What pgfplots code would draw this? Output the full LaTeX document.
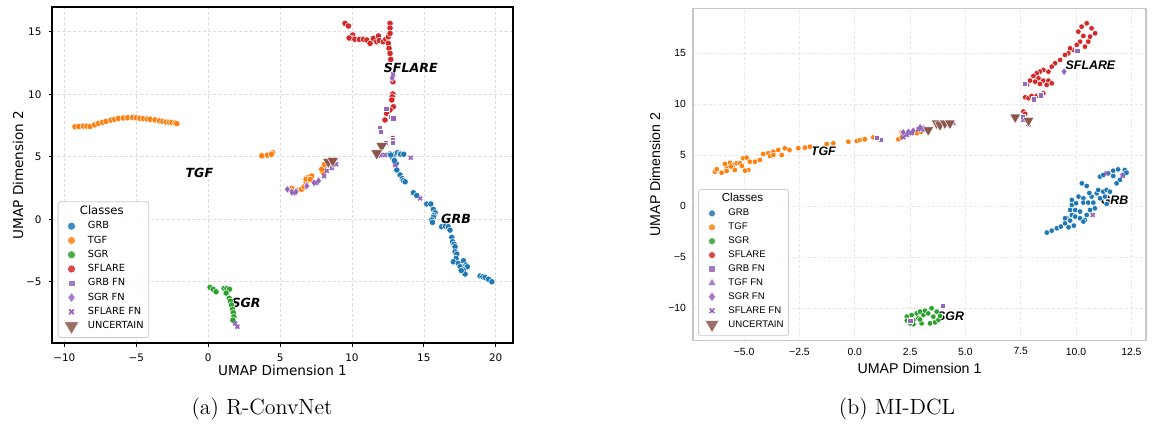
\documentclass[border=0pt]{standalone}
\usepackage{fontspec}
\newfontfamily\dejavu{DejaVu Sans}
\newfontfamily\libsans{Liberation Sans}
\usepackage{pgfplots}
\pgfplotsset{compat=1.18}

\definecolor{cGRB}{HTML}{1F77B4}
\definecolor{cTGF}{HTML}{FF7F0E}
\definecolor{cSGR}{HTML}{2CA02C}
\definecolor{cSFL}{HTML}{D62728}
\definecolor{cFN}{HTML}{9467BD}
\definecolor{cUNC}{HTML}{8C564B}

\pgfplotsset{
  cls/.style={only marks, mark=*, color=#1, mark options={fill=#1, draw=white, line width=0.25pt}},
  sq/.style={only marks, mark=square*, color=cFN, mark size=1.35pt, mark options={fill=cFN, draw=white, line width=0.25pt}},
  tri/.style={only marks, mark=triangle*, color=cFN, mark size=1.9pt, mark options={fill=cFN, draw=white, line width=0.25pt}},
  dia/.style={only marks, mark=diamond*, color=cFN, mark size=2pt, mark options={fill=cFN, draw=white, line width=0.25pt}},
  xx/.style={only marks, mark=x, color=cFN, mark size=1.35pt, mark options={draw=cFN, line width=0.85pt}},
  unc/.style={only marks, mark=triangle*, color=cUNC, mark size=3.4pt, mark options={rotate=180, fill=cUNC, draw=white, line width=0.25pt}},
  mylegend/.style={
    legend cell align=left,
    legend style={draw=black!20, rounded corners=1.2pt, fill=white, fill opacity=0.85, text opacity=1,
      inner xsep=2pt, inner ysep=1.5pt,
      nodes={inner sep=0.5pt, text depth=0.1em}},
    legend image code/.code={\draw[##1, /tikz/every mark/.append style={scale=1.25}] plot coordinates {(4.5pt,0pt)}; \path (0pt,0pt) (12pt,0pt);},
  },
}

\begin{document}
\begin{tikzpicture}
\path[use as bounding box] (0,0) rectangle (577.5pt,-212pt);

% ---------------- (a) R-ConvNet ----------------
\begin{axis}[
  at={(26pt,-171.5pt)}, anchor=south west,
  scale only axis, width=230.5pt, height=168pt,
  xmin=-10.86, xmax=21.2, ymin=-9.9, ymax=16.98,
  xtick={-10,-5,0,5,10,15,20}, xticklabels={−10,−5,0,5,10,15,20},
  ytick={-5,0,5,10,15}, yticklabels={−5,0,5,10,15},
  tick align=outside, major tick length=1.75pt,
  xtick pos=bottom, ytick pos=left,
  tick style={black, line width=0.4pt},
  axis line style={black, line width=0.55pt},
  grid=major, grid style={dash pattern=on 1.6pt off 1pt, black!13, line width=0.3pt},
  ticklabel style={font=\dejavu\fontsize{5.2}{6}\selectfont},
  xlabel={UMAP Dimension 1}, ylabel={UMAP Dimension 2},
  label style={font=\dejavu\fontsize{6.8}{8}\selectfont},
  xlabel style={at={(axis description cs:0.5,-0.0804)}, anchor=center},
  ylabel style={at={(axis description cs:-0.0738,0.5)}, anchor=center},
  mylegend,
  legend style={at={(0.0124,0.0149)}, anchor=south west, font=\dejavu\fontsize{4.9}{5.9}\selectfont, row sep=1.5pt},
  mark size=1.6pt,
]
\addlegendimage{empty legend}
\addlegendentry{\hspace*{-4pt}{\fontsize{5.8}{7}\selectfont Classes}}

\addplot[cls=cGRB] coordinates {
(12.65,5.22)(12.84,4.9)(13.0,5.22)(13.16,5.32)(13.35,5.27)(13.39,5.2)(13.6,5.2)(12.7,5.14)
(13.07,4.47)(12.95,4.7)(13.12,3.94)(13.35,3.54)(13.5,3.25)(13.58,3.09)(13.7,3.0)(14.27,2.12)
(14.5,1.9)(15.2,1.22)(15.48,1.22)(15.66,0.79)(15.78,0.52)(15.7,0.3)(15.66,0.16)(15.55,-0.06)
(15.6,-0.25)(16.24,-0.6)(16.5,-0.55)(16.7,-0.6)(16.82,-0.87)(16.94,-1.45)(17.0,-1.8)(17.1,-2.0)
(17.17,-2.2)(17.17,-2.6)(17.29,-2.79)(17.24,-3.13)(17.05,-3.4)(17.4,-3.53)(17.52,-3.8)(17.75,-3.32)
(17.93,-3.66)(18.02,-3.8)(17.75,-4.06)(17.87,-4.38)(17.6,-4.1)(18.91,-4.54)(19.1,-4.6)(19.26,-4.65)
(19.5,-4.8)(19.73,-5.0)
};
\addlegendentry{GRB}

\addplot[cls=cTGF] coordinates {
(-9.26,7.4)(-9.0,7.42)(-8.68,7.45)(-8.45,7.45)(-8.21,7.42)(-7.9,7.55)(-7.63,7.67)(-7.35,7.75)
(-7.10,7.83)(-6.75,7.93)(-6.5,8.0)(-6.24,8.07)(-5.9,8.1)(-5.6,8.12)(-5.25,8.15)(-5.0,8.12)
(-4.75,8.08)(-4.5,8.05)(-4.25,8.02)(-4.04,8.0)(-3.7,7.95)(-3.39,7.88)(-3.15,7.82)(-2.93,7.77)
(-2.7,7.75)(-2.53,7.75)(-2.3,7.7)(-2.18,7.65)
(3.73,5.08)(4.12,5.13)(4.49,5.32)(4.4,5.2)
(5.81,2.47)(6.2,2.32)(6.5,2.4)(6.67,2.6)(6.81,3.0)(6.97,3.35)(7.2,3.46)(6.81,3.2)(7.1,3.2)
(7.97,3.8)(8.06,4.2)(8.25,4.6)(7.9,4.0)(8.1,4.4)
};
\addlegendentry{TGF}

\addplot[cls=cSGR] coordinates {
(0.13,-5.45)(0.35,-5.6)(0.55,-5.8)(1.11,-5.53)(1.3,-5.55)(1.48,-5.6)(1.25,-5.9)(1.47,-6.33)
(1.55,-6.55)(1.63,-6.86)(1.7,-7.2)(1.75,-7.48)(1.79,-7.8)(1.72,-8.07)
};
\addlegendentry{SGR}

\addplot[cls=cSFL] coordinates {
(9.52,15.67)(9.75,15.46)(10.05,14.74)(9.99,14.47)(9.8,14.5)(10.2,14.4)(10.52,14.39)(10.8,14.4)
(11.03,14.34)(11.26,14.07)(11.49,14.47)(11.72,14.2)(11.84,14.66)(11.9,14.3)(12.18,14.2)(12.35,14.4)
(12.53,14.6)(12.65,15.67)(12.65,15.3)(12.65,14.87)(12.53,14.07)(12.58,13.67)(12.65,13.27)(12.7,12.79)
(12.85,11.0)(12.84,10.02)(12.8,9.8)(12.77,9.54)(12.88,9.0)(12.65,8.74)(12.41,8.47)(12.30,7.94)(12.84,6.46)
};
\addlegendentry{SFLARE}

\addplot[sq] coordinates {
(12.39,8.82)(12.72,8.2)(12.88,8.07)(11.95,7.27)(12.0,7.0)(12.37,6.12)(12.84,6.33)(12.84,6.12)
};
\addlegendentry{GRB FN}

\addplot[dia] coordinates {
(5.51,2.39)(5.81,2.2)(6.11,2.2)(6.86,2.66)(7.36,2.92)(7.68,3.08)(11.9,5.14)(12.8,11.3)
};
\addlegendentry{SGR FN}

\addplot[xx] coordinates {
(5.9,2.1)(7.5,2.9)(8.06,3.46)(8.25,3.88)(8.6,4.1)(8.9,4.4)(12.3,5.14)(13.0,4.34)(14.09,4.92)
(14.74,1.67)(12.86,11.6)(12.0,5.14)(2.03,-8.6)(1.87,-8.33)
};
\addlegendentry{SFLARE FN}

\addplot[unc] coordinates {
(8.36,4.6)(8.66,4.68)(12.07,5.86)(11.72,5.27)
};
\addlegendentry{UNCERTAIN}

\begin{scope}[every node/.style={font=\dejavu\bfseries\itshape\fontsize{6.3}{7.5}\selectfont}]
\node at (axis cs:14.09,12.07) {SFLARE};
\node at (axis cs:-0.61,3.67) {TGF};
\node at (axis cs:17.24,0.0) {GRB};
\node at (axis cs:2.64,-6.68) {SGR};
\end{scope}
\end{axis}

% ---------------- (b) MI-DCL ----------------
\begin{axis}[
  at={(346.5pt,-170.35pt)}, anchor=south west,
  scale only axis, width=226.5pt, height=166.2pt,
  xmin=-7.31, xmax=13.16, ymin=-13.18, ymax=19.41,
  xtick={-5,-2.5,0,2.5,5,7.5,10,12.5}, xticklabels={−5.0,−2.5,0.0,2.5,5.0,7.5,10.0,12.5},
  ytick={-10,-5,0,5,10,15}, yticklabels={−10,−5,0,5,10,15},
  major tick length=0pt,
  axis line style={black!22, line width=0.65pt},
  grid=major, grid style={dash pattern=on 1.6pt off 1pt, black!9, line width=0.35pt},
  ticklabel style={font=\libsans\fontsize{5.2}{6}\selectfont},
  xlabel={UMAP Dimension 1}, ylabel={UMAP Dimension 2},
  label style={font=\libsans\fontsize{7.1}{8.5}\selectfont},
  xlabel style={at={(axis description cs:0.5,-0.082)}, anchor=center},
  ylabel style={at={(axis description cs:-0.0839,0.5)}, anchor=center},
  mylegend,
  legend style={at={(0.0115,0.014)}, anchor=south west, font=\libsans\fontsize{4.8}{5.8}\selectfont, row sep=1.6pt},
  mark size=1.4pt,
]
\addlegendimage{empty legend}
\addlegendentry{\hspace*{-3.3pt}{\fontsize{5.8}{7}\selectfont Classes}}

\addplot[cls=cGRB] coordinates {
(8.68,-2.58)(8.9,-2.39)(9.13,-2.16)(9.31,-1.99)(9.5,-1.67)(9.58,-1.17)(9.73,-1.4)(9.81,-0.85)
(9.96,-1.01)(10.18,-1.17)(10.4,-1.34)(10.48,-0.85)(9.73,-0.36)(9.96,-0.36)(10.18,-0.52)(9.81,0.13)
(9.81,0.62)(10.11,0.95)(10.33,0.78)(10.33,0.36)(10.55,0.36)(10.78,0.36)(10.7,0.95)(10.93,1.27)
(11.0,1.6)(11.23,1.43)(11.38,1.6)(11.53,1.43)(11.3,0.95)(11.08,0.78)(11.38,0.23)(10.26,2.25)
(10.48,1.99)(11.08,2.91)(11.23,3.07)(11.45,3.23)(11.68,3.49)(11.9,3.62)(12.2,3.56)(12.13,3.07)
(11.98,2.58)(11.83,2.25)(11.68,2.97)(12.28,3.3)(10.63,-0.36)(10.85,-0.2)(10.33,-1.5)(9.5,-1.17)
(9.66,-2.06)(10.0,0.3)(10.6,1.3)(9.9,-1.9)
};
\addlegendentry{GRB}

\addplot[cls=cTGF] coordinates {
(-6.32,3.39)(-6.02,3.29)(-6.24,3.63)(-5.79,3.73)(-5.87,4.15)(-5.64,4.27)(-5.49,4.05)(-5.34,4.22)
(-5.19,4.22)(-5.04,4.71)(-4.89,4.77)(-4.81,3.56)(-4.96,3.49)(-5.42,3.56)(-5.79,3.46)(-5.6,3.9)
(-5.1,3.95)(-4.74,4.37)(-4.51,4.37)(-4.29,4.54)(-4.14,5.13)(-3.91,5.2)(-3.68,5.35)(-3.83,4.93)
(-3.68,5.03)(-3.46,5.52)(-3.16,5.69)(-3.30,5.03)(-2.95,5.52)(-2.55,5.69)(-2.25,5.75)(-2.03,5.84)
(-1.27,6.1)(-0.97,6.18)(-0.29,6.33)(0.09,6.4)(0.24,6.5)(0.39,6.57)(0.46,6.57)(0.84,6.76)
(1.97,6.57)(2.12,6.76)(2.12,7.25)(2.8,7.16)(3.0,7.3)
};
\addlegendentry{TGF}

\addplot[cls=cSGR] coordinates {
(2.35,-10.82)(2.35,-11.2)(2.57,-10.66)(2.65,-11.15)(2.65,-11.57)(2.8,-10.5)(2.87,-11.0)(2.95,-10.33)
(3.02,-11.48)(3.1,-10.66)(3.17,-10.24)(3.32,-10.5)(3.4,-11.48)(3.47,-10.0)(3.55,-10.82)(3.63,-11.38)
(3.7,-10.33)(3.78,-11.15)(3.85,-10.75)(2.5,-11.48)(2.95,-11.1)
};
\addlegendentry{SGR}

\addplot[cls=cSFL] coordinates {
(10.48,17.94)(10.25,17.61)(10.7,17.45)(10.86,16.96)(10.1,17.12)(10.33,16.7)(10.63,16.63)(10.18,16.14)
(10.55,16.14)(10.4,15.65)(10.03,15.82)(9.88,15.33)(9.73,15.49)(9.65,15.0)(9.5,14.84)(9.28,14.35)
(9.05,14.02)(8.9,13.69)(8.75,13.2)(8.52,13.37)(8.37,13.2)(8.22,13.04)(8.07,12.78)(8.3,12.55)
(8.52,12.32)(8.75,12.32)(8.9,12.06)(8.67,11.9)(8.37,12.0)(8.15,12.22)(7.92,12.32)(7.77,11.9)
(7.7,10.69)(7.85,10.6)(7.99,10.82)(8.22,10.82)(8.37,11.0)(8.52,11.08)(7.62,9.29)(7.7,9.06)
};
\addlegendentry{SFLARE}

\addplot[sq] coordinates {
(1.17,6.5)(1.0,6.7)(10.06,15.26)(7.67,12.0)(8.1,10.5)(8.4,10.89)(7.59,8.8)(3.97,-9.77)(2.5,-11.2)
};
\addlegendentry{GRB FN}

\addplot[tri] coordinates {
(4.18,7.97)(4.45,8.14)(3.1,7.48)
};
\addlegendentry{TGF FN}

\addplot[dia] coordinates {
(2.19,7.25)(2.42,7.31)(2.64,7.41)(2.95,7.74)(9.46,13.2)
};
\addlegendentry{SGR FN}

\addplot[xx] coordinates {
(2.19,6.77)(2.35,6.99)(2.57,7.16)(2.87,7.55)(3.05,7.7)(11.38,3.23)(12.1,2.97)(10.75,-0.85)
(7.85,8.04)(7.62,8.47)
};
\addlegendentry{SFLARE FN}

\addplot[unc, mark size=3.2pt] coordinates {
(3.32,7.48)(3.7,8.14)(3.85,7.97)(4.07,8.14)(4.3,8.14)(7.25,8.73)(7.85,8.4)
};
\addlegendentry{UNCERTAIN}

\begin{scope}[every node/.style={font=\libsans\bfseries\itshape\fontsize{6.2}{7.5}\selectfont}]
\node at (axis cs:10.65,13.8) {SFLARE};
\node at (axis cs:-1.42,5.35) {TGF};
\node at (axis cs:11.74,0.62) {GRB};
\node at (axis cs:4.33,-10.75) {SGR};
\end{scope}
\end{axis}

\node[font=\fontsize{11}{13}\selectfont] at (131pt,-204.5pt) {(a) R-ConvNet};
\node[font=\fontsize{11}{13}\selectfont] at (448.5pt,-204.5pt) {(b) MI-DCL};
\end{tikzpicture}
\end{document}
